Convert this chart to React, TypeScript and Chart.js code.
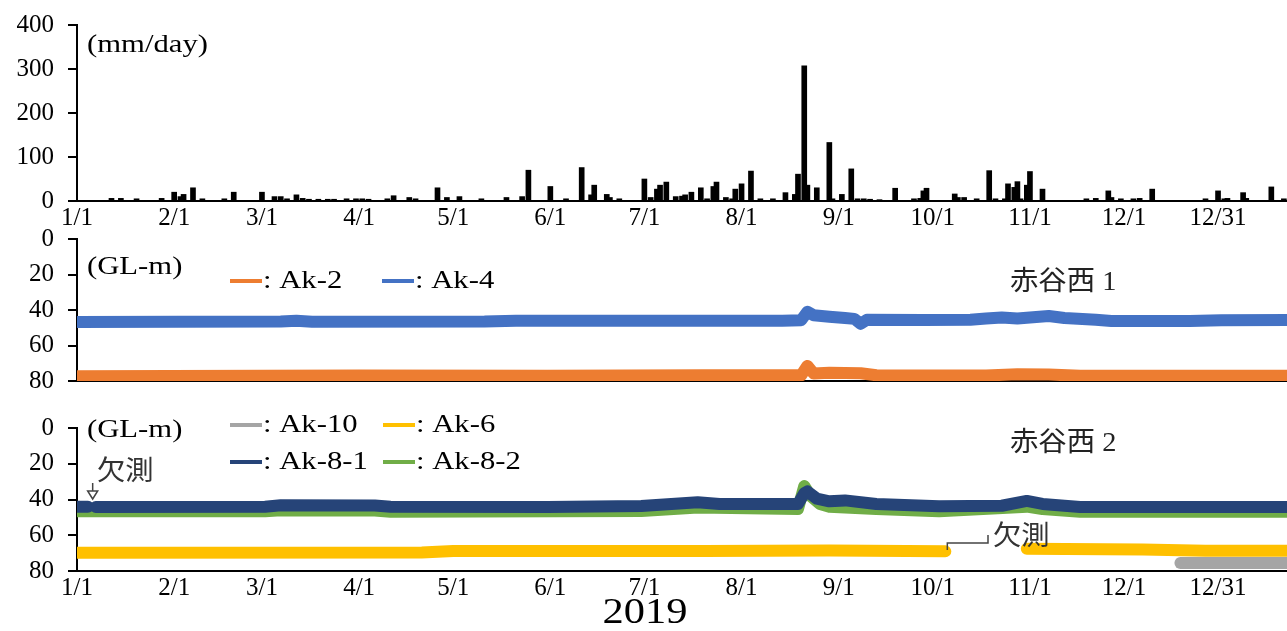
import React, { useEffect, useRef } from 'react';
import { Chart, registerables } from 'chart.js';

Chart.register(...registerables);

// ---------- data ----------
const tickDays = [0, 31, 59, 90, 120, 151, 181, 212, 243, 273, 304, 334, 364];
const tickLabels = ['1/1', '2/1', '3/1', '4/1', '5/1', '6/1', '7/1', '8/1', '9/1', '10/1', '11/1', '12/1', '12/31'];
const X_MAX = 386;

// daily rainfall (day index from 1/1, mm/day)
const rainDays = [11, 14, 19, 27, 31, 33, 34, 37, 40, 47, 50, 59, 63, 65, 67, 70, 72, 74, 77, 80, 82, 86, 89, 91, 93, 99, 101, 106, 108, 115, 118, 122, 129, 137, 142, 144, 151, 156, 161, 164, 165, 169, 170, 173, 181, 183, 185, 186, 188, 191, 193, 194, 196, 199, 201, 203, 204, 207, 209, 210, 212, 215, 218, 222, 226, 229, 230, 232, 233, 236, 240, 241, 244, 247, 249, 251, 253, 256, 261, 267, 269, 270, 271, 280, 281, 283, 287, 291, 293, 296, 297, 299, 300, 301, 303, 304, 308, 322, 325, 329, 330, 333, 337, 339, 343, 360, 364, 366, 367, 372, 373, 381, 385];
const rainMm = [6, 6, 5, 6, 20, 10, 15, 30, 5, 5, 20, 20, 10, 10, 5, 14, 6, 4, 4, 4, 4, 5, 5, 5, 4, 5, 12, 8, 5, 30, 8, 10, 5, 8, 10, 70, 33, 5, 76, 14, 36, 15, 8, 5, 50, 8, 27, 36, 43, 10, 11, 14, 20, 30, 5, 33, 43, 8, 5, 27, 39, 68, 5, 5, 19, 15, 61, 307, 36, 30, 133, 5, 15, 73, 5, 5, 4, 3, 29, 5, 6, 23, 29, 16, 8, 8, 5, 69, 5, 5, 39, 31, 44, 5, 36, 67, 27, 5, 6, 23, 8, 5, 5, 6, 27, 5, 23, 5, 6, 19, 6, 32, 5];

// groundwater depth (GL-m), 赤谷西 1
const ak2Days = [0, 60, 90, 150, 200, 231, 233, 235, 240, 250, 255, 290, 300, 310, 320, 386];
const ak2Depth = [77.3, 77.1, 76.9, 77.1, 76.7, 76.8, 71.5, 75.8, 75.4, 75.6, 76.8, 76.9, 76.2, 76.4, 77.0, 77.0];
const ak4Days = [0, 65, 70, 75, 130, 140, 200, 225, 231, 233, 235, 240, 245, 248, 250, 252, 270, 285, 290, 295, 300, 310, 315, 325, 330, 355, 365, 386];
const ak4Depth = [46.8, 46.5, 46.0, 46.6, 46.5, 46.0, 46.0, 46.0, 45.8, 41.0, 43.0, 43.8, 44.5, 45.0, 47.8, 45.5, 45.6, 45.5, 44.8, 44.2, 44.8, 43.4, 44.5, 45.5, 46.2, 46.2, 45.8, 45.6];

// groundwater depth (GL-m), 赤谷西 2
const ak10Days = [352, 386];
const ak10Depth = [75.5, 75.5];
const ak6Days = [0, 110, 120, 200, 240, 277, 278, 303, 340, 360, 386];
const ak6Depth = [69.8, 69.6, 68.8, 68.8, 68.5, 69.0, null, 67.6, 68.0, 68.7, 68.7];
const ak81Days = [0, 3.5, 4.5, 6, 60, 65, 95, 100, 150, 180, 198, 205, 230, 232, 233, 236, 240, 245, 255, 275, 295, 303, 308, 320, 386];
const ak81Depth = [44.0, 44.0, null, 44.2, 44.0, 43.2, 43.3, 44.0, 44.2, 43.6, 41.5, 42.5, 42.5, 36.5, 35.5, 39.5, 41.0, 40.5, 42.5, 43.8, 43.5, 40.8, 42.5, 44.2, 44.2];
const ak82Days = [0, 60, 65, 95, 100, 180, 198, 230, 232, 234, 237, 240, 255, 275, 303, 308, 320, 386];
const ak82Depth = [46.6, 46.6, 46.0, 46.2, 46.8, 46.4, 44.5, 45.3, 32.5, 38.0, 42.5, 44.0, 45.3, 46.6, 44.0, 45.3, 46.8, 46.8];

const COL = {
  ak2: '#ED7D31',
  ak4: '#4472C4',
  ak10: '#A5A5A5',
  ak6: '#FFC000',
  ak81: '#264478',
  ak82: '#70AD47',
};

const SERIF = '"Liberation Serif", "Times New Roman", serif';
const MIXED = '"Liberation Serif", "Noto Sans CJK JP", serif';
const CJK = '"Noto Sans CJK JP", sans-serif';

const pts = (xs: number[], ys: (number | null)[]) => xs.map((x, i) => ({ x, y: ys[i] }));

// ---------- scale helpers ----------
function xScale(showLabels: boolean, height: number, z = 0) {
  return {
    type: 'linear' as const,
    min: 0,
    max: X_MAX,
    offset: false,
    z,
    grid: { display: false, drawTicks: false },
    border: { display: true, color: '#000', width: 2 },
    ticks: {
      display: showLabels,
      autoSkip: false,
      maxRotation: 0,
      padding: 2,
      color: '#000',
      font: { family: SERIF, size: 25 },
      callback: (v: any) => {
        const i = tickDays.indexOf(Number(v));
        return i >= 0 ? tickLabels[i] : '';
      },
    },
    afterBuildTicks: (axis: any) => {
      axis.ticks = tickDays.map((v) => ({ value: v }));
    },
    afterFit: (axis: any) => {
      axis.height = height;
      axis.paddingLeft = 0;
      axis.paddingRight = 0;
    },
  };
}

function yScale(min: number, max: number, step: number, reverse: boolean) {
  return {
    type: 'linear' as const,
    min,
    max,
    reverse,
    ticks: { stepSize: step, color: '#000', padding: 14, font: { family: SERIF, size: 25 } },
    grid: { drawOnChartArea: false, drawTicks: true, tickLength: 9, color: '#000', lineWidth: 2 },
    border: { display: true, color: '#000', width: 2 },
    afterFit: (axis: any) => {
      axis.width = 77;
      axis.paddingTop = 0;
      axis.paddingBottom = 0;
    },
  };
}

function lineDs(label: string, data: any[], color: string, order: number) {
  return {
    label,
    data,
    borderColor: color,
    backgroundColor: color,
    borderWidth: 12,
    borderCapStyle: 'round' as const,
    borderJoinStyle: 'round' as const,
    pointRadius: 0,
    tension: 0,
    spanGaps: false,
    order,
  };
}

// ---------- annotation drawing ----------
function text(
  ctx: CanvasRenderingContext2D,
  s: string,
  x: number,
  y: number,
  font: string,
  color = '#000',
  align: CanvasTextAlign = 'left',
  stretch = 1.18
) {
  ctx.save();
  ctx.translate(x, y);
  ctx.scale(stretch, 1);
  ctx.font = font;
  ctx.fillStyle = color;
  ctx.textAlign = align;
  ctx.textBaseline = 'middle';
  ctx.fillText(s, 0, 0);
  ctx.restore();
}

function swatch(ctx: CanvasRenderingContext2D, x: number, y: number, color: string) {
  ctx.save();
  ctx.strokeStyle = color;
  ctx.lineWidth = 4;
  ctx.beginPath();
  ctx.moveTo(x, y);
  ctx.lineTo(x + 32, y);
  ctx.stroke();
  ctx.restore();
}

function legendItem(ctx: CanvasRenderingContext2D, x: number, y: number, color: string, label: string) {
  swatch(ctx, x, y, color);
  text(ctx, ': ' + label, x + 33, y, `26px ${SERIF}`);
}

function annotator(id: string, offsetY: number, draw: (ctx: CanvasRenderingContext2D, chart: any) => void) {
  return {
    id,
    afterDraw(chart: any) {
      const ctx = chart.ctx as CanvasRenderingContext2D;
      ctx.save();
      ctx.translate(0, -offsetY);
      draw(ctx, chart);
      ctx.restore();
    },
  };
}

// ---------- component ----------
const PANELS = {
  top: { top: 0, height: 240 },
  mid: { top: 215, height: 185 },
  bot: { top: 400, height: 231 },
};

export default function App() {
  const topRef = useRef<HTMLCanvasElement>(null);
  const midRef = useRef<HTMLCanvasElement>(null);
  const botRef = useRef<HTMLCanvasElement>(null);

  useEffect(() => {
    const charts: Chart[] = [];

    // rainfall
    charts.push(
      new Chart(topRef.current as HTMLCanvasElement, {
        type: 'bar',
        data: {
          datasets: [
            {
              label: 'rain',
              data: pts(rainDays, rainMm) as any,
              backgroundColor: '#000',
              borderWidth: 0,
              barThickness: 5,
            },
          ],
        },
        options: {
          responsive: false,
          animation: false,
          layout: { padding: { top: 25, left: 0, right: 0, bottom: 0 } },
          plugins: { legend: { display: false }, tooltip: { enabled: false } },
          scales: {
            x: xScale(true, 39) as any,
            y: yScale(0, 400, 100, false) as any,
          },
        },
        plugins: [
          annotator('a-top', PANELS.top.top, (ctx) => {
            text(ctx, '(mm/day)', 87, 45, `26px ${SERIF}`);
          }),
        ],
      })
    );

    // 赤谷西 1
    charts.push(
      new Chart(midRef.current as HTMLCanvasElement, {
        type: 'line',
        data: {
          datasets: [
            lineDs('Ak-2', pts(ak2Days, ak2Depth), COL.ak2, 1),
            lineDs('Ak-4', pts(ak4Days, ak4Depth), COL.ak4, 0),
          ],
        },
        options: {
          responsive: false,
          animation: false,
          layout: { padding: { top: 24, left: 0, right: 0, bottom: 19 } },
          plugins: { legend: { display: false }, tooltip: { enabled: false } },
          scales: {
            x: xScale(false, 0, 1) as any,
            y: yScale(0, 80, 20, true) as any,
          },
        },
        plugins: [
          annotator('a-mid', PANELS.mid.top, (ctx) => {
            text(ctx, '(GL-m)', 87, 267, `26px ${SERIF}`);
            legendItem(ctx, 230, 281, COL.ak2, 'Ak-2');
            legendItem(ctx, 382, 281, COL.ak4, 'Ak-4');
            text(ctx, '赤谷西 1', 1010, 283, `27px ${MIXED}`, '#222', 'left', 1.05);
          }),
        ],
      })
    );

    // 赤谷西 2
    charts.push(
      new Chart(botRef.current as HTMLCanvasElement, {
        type: 'line',
        data: {
          datasets: [
            lineDs('Ak-8-1', pts(ak81Days, ak81Depth), COL.ak81, 0),
            lineDs('Ak-8-2', pts(ak82Days, ak82Depth), COL.ak82, 1),
            lineDs('Ak-6', pts(ak6Days, ak6Depth), COL.ak6, 2),
            lineDs('Ak-10', pts(ak10Days, ak10Depth), COL.ak10, 3),
          ],
        },
        options: {
          responsive: false,
          animation: false,
          layout: { padding: { top: 28, left: 0, right: 0, bottom: 0 } },
          plugins: { legend: { display: false }, tooltip: { enabled: false } },
          scales: {
            x: xScale(true, 60) as any,
            y: yScale(0, 80, 20, true) as any,
          },
        },
        plugins: [
          annotator('a-bot', PANELS.bot.top, (ctx, chart) => {
            const xs = chart.scales.x;
            text(ctx, '(GL-m)', 87, 430, `26px ${SERIF}`);
            legendItem(ctx, 230, 425, COL.ak10, 'Ak-10');
            legendItem(ctx, 383, 425, COL.ak6, 'Ak-6');
            legendItem(ctx, 230, 462, COL.ak81, 'Ak-8-1');
            legendItem(ctx, 383, 462, COL.ak82, 'Ak-8-2');
            text(ctx, '赤谷西 2', 1010, 444, `27px ${MIXED}`, '#222', 'left', 1.05);

            // missing-data note near 1/1
            const gx = xs.getPixelForValue(5);
            text(ctx, '欠測', 97, 470, `27px ${CJK}`, '#333', 'left', 1.05);
            ctx.save();
            ctx.strokeStyle = '#444';
            ctx.lineWidth = 1.5;
            ctx.beginPath();
            ctx.moveTo(gx, 483);
            ctx.lineTo(gx, 492);
            ctx.stroke();
            ctx.fillStyle = '#fff';
            ctx.beginPath();
            ctx.moveTo(gx - 5, 491);
            ctx.lineTo(gx + 5, 491);
            ctx.lineTo(gx, 499);
            ctx.closePath();
            ctx.fill();
            ctx.stroke();
            ctx.restore();

            // missing-data bracket in October
            const bx = xs.getPixelForValue(277);
            ctx.save();
            ctx.strokeStyle = '#444';
            ctx.lineWidth = 1.5;
            ctx.beginPath();
            ctx.moveTo(bx + 2, 550);
            ctx.lineTo(bx + 2, 543);
            ctx.lineTo(988, 543);
            ctx.lineTo(988, 535);
            ctx.stroke();
            ctx.restore();
            text(ctx, '欠測', 993, 535, `27px ${CJK}`, '#333', 'left', 1.05);

            text(ctx, '2019', 645, 614, `36px ${SERIF}`, '#000', 'center');
          }),
        ],
      })
    );

    return () => charts.forEach((c) => c.destroy());
  }, []);

  const cv = (p: { top: number; height: number }) => ({
    position: 'absolute' as const,
    left: 0,
    top: p.top,
    width: 1287,
    height: p.height,
  });

  return (
    <div style={{ position: 'absolute', left: 0, top: 0, width: 1287, height: 631, background: '#fff', overflow: 'hidden' }}>
      <canvas ref={topRef} width={1287} height={PANELS.top.height} style={cv(PANELS.top)} />
      <canvas ref={midRef} width={1287} height={PANELS.mid.height} style={cv(PANELS.mid)} />
      <canvas ref={botRef} width={1287} height={PANELS.bot.height} style={cv(PANELS.bot)} />
    </div>
  );
}
